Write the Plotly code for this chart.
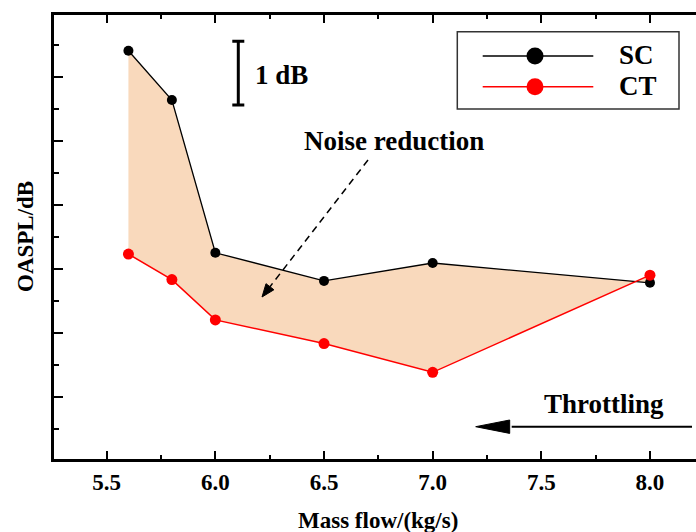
import math
import plotly.graph_objects as go

# Overall sound pressure level against mass flow, two configurations
mass_flow = [5.6, 5.8, 6.0, 6.5, 7.0, 8.0]
oaspl_sc = [106.41, 105.64, 103.25, 102.81, 103.09, 102.78]
oaspl_ct = [103.23, 102.83, 102.20, 101.83, 101.38, 102.90]
series_names = ["SC", "CT"]
x_tick_values = [5.5, 6.0, 6.5, 7.0, 7.5, 8.0]
x_tick_labels = ["5.5", "6.0", "6.5", "7.0", "7.5", "8.0"]
scale_bar_db = 1.0

FONT = "Liberation Serif"
W, H = 696, 532
ML, MR, MT, MB = 54, 0, 15, 73


def paper(px, py):
    """Screen pixel position -> paper coordinates."""
    return (px - ML) / (W - ML - MR), (H - MB - py) / (H - MB - MT)


fig = go.Figure()

# shaded band between the two curves
fig.add_trace(go.Scatter(
    x=mass_flow + mass_flow[::-1],
    y=oaspl_sc + oaspl_ct[::-1],
    fill="toself", fillcolor="#F9D9BC",
    mode="lines", line=dict(width=0),
    hoverinfo="skip", showlegend=False,
))
fig.add_trace(go.Scatter(
    x=mass_flow, y=oaspl_sc, name=series_names[0], mode="lines+markers",
    line=dict(color="black", width=1.3),
    marker=dict(color="black", size=10), showlegend=False,
))
fig.add_trace(go.Scatter(
    x=mass_flow, y=oaspl_ct, name=series_names[1], mode="lines+markers",
    line=dict(color="#FF0000", width=1.5),
    marker=dict(color="#FF0000", size=11), showlegend=False,
))

# 1 dB scale bar
fig.add_trace(go.Scatter(
    x=[6.1056], y=[106.56 - scale_bar_db / 2], mode="markers",
    marker=dict(size=1, color="rgba(0,0,0,0)"),
    error_y=dict(type="data", array=[scale_bar_db / 2], color="black",
                 thickness=3, width=6),
    hoverinfo="skip", showlegend=False,
))

# legend glyphs (drawn on a pixel-scaled overlay axis)
legend_rows = [(56.0, "black", 1.3), (86.7, "#FF0000", 1.5)]
for (ly, col, lw), name in zip(legend_rows, series_names):
    fig.add_shape(type="line", x0=482.7, x1=593.3, y0=ly, y1=ly,
                  line=dict(color=col, width=lw), xref="x2", yref="y2")
    fig.add_trace(go.Scatter(
        x=[535], y=[ly], mode="markers", xaxis="x2", yaxis="y2",
        marker=dict(color=col, size=17), hoverinfo="skip", showlegend=False,
    ))
    fig.add_annotation(x=617, y=ly - 1, xref="x2", yref="y2", text=f"<b>{name}</b>",
                       showarrow=False, xanchor="left", yanchor="middle",
                       font=dict(family=FONT, size=27, color="black"))
fig.add_shape(type="rect", x0=457.3, x1=679, y0=31.7, y1=109,
              line=dict(color="#333333", width=1.5), xref="x2", yref="y2")


def arrow_head(tip, start, length, half_w):
    dx, dy = tip[0] - start[0], tip[1] - start[1]
    d = math.hypot(dx, dy)
    ux, uy = dx / d, dy / d
    bx, by = tip[0] - length * ux, tip[1] - length * uy
    nx, ny = -uy, ux
    return (f"M{tip[0]},{tip[1]} L{bx + half_w * nx},{by + half_w * ny} "
            f"L{bx - half_w * nx},{by - half_w * ny} Z"), (bx, by)


# dashed pointer to the shaded region
p_start, p_tip = (368, 160), (262, 297)
path, base = arrow_head(p_tip, p_start, 13, 5)
fig.add_shape(type="line", x0=p_start[0], y0=p_start[1], x1=base[0], y1=base[1],
              line=dict(color="black", width=1.5, dash="7px,5px"), xref="x2", yref="y2")
fig.add_shape(type="path", path=path, fillcolor="black",
              line=dict(color="black", width=1), xref="x2", yref="y2")

# throttling direction arrow
t_start, t_tip = (692, 426.7), (475.7, 426.7)
path, base = arrow_head(t_tip, t_start, 34, 6.7)
fig.add_shape(type="line", x0=t_start[0], y0=t_start[1], x1=base[0] + 2, y1=base[1],
              line=dict(color="black", width=2), xref="x2", yref="y2")
fig.add_shape(type="path", path=path, fillcolor="black",
              line=dict(color="black", width=1), xref="x2", yref="y2")

text_font = dict(family=FONT, size=27, color="black")
fig.add_annotation(x=253, y=75, xref="x2", yref="y2", text="<b>1 dB</b>",
                   showarrow=False, xanchor="left", yanchor="middle", font=text_font)
fig.add_annotation(x=393.5, y=141, xref="x2", yref="y2", text="<b>Noise reduction</b>",
                   showarrow=False, xanchor="center", yanchor="middle", font=text_font)
fig.add_annotation(x=604.2, y=404, xref="x2", yref="y2", text="<b>Throttling</b>",
                   showarrow=False, xanchor="center", yanchor="middle", font=text_font)

# axis titles
title_font = dict(family=FONT, size=23, color="black")
tx, ty = paper(378, 520)
fig.add_annotation(x=tx, y=ty, xref="paper", yref="paper", text="<b>Mass flow/(kg/s)</b>",
                   showarrow=False, xanchor="center", yanchor="middle", font=title_font)
tx, ty = paper(25, 237)
fig.add_annotation(x=tx, y=ty, xref="paper", yref="paper", text="<b>OASPL/dB</b>",
                   showarrow=False, xanchor="center", yanchor="middle",
                   textangle=-90, font=title_font)

fig.update_layout(
    width=W, height=H,
    margin=dict(l=ML, r=MR, t=MT, b=MB, pad=0),
    paper_bgcolor="white", plot_bgcolor="white",
    font=dict(family=FONT, color="black"),
    xaxis=dict(
        range=[5.2575, 8.2118], tickmode="array",
        tickvals=x_tick_values, ticktext=x_tick_labels,
        ticks="inside", ticklen=8, tickwidth=2, tickcolor="black",
        minor=dict(ticks="inside", ticklen=4, tickwidth=2, tickcolor="black",
                   tick0=5.25, dtick=0.25),
        showline=True, linewidth=3, linecolor="black", mirror="ticks",
        showgrid=False, zeroline=False,
        tickfont=dict(family=FONT, size=23, color="black", weight="bold"),
    ),
    yaxis=dict(
        range=[100.024, 106.969], tick0=100, dtick=1,
        ticks="inside", ticklen=9, tickwidth=2, tickcolor="black",
        minor=dict(ticks="inside", ticklen=5, tickwidth=2, tickcolor="black",
                   tick0=100.5, dtick=0.5),
        showticklabels=False,
        showline=True, linewidth=3, linecolor="black", mirror=False,
        showgrid=False, zeroline=False,
    ),
    xaxis2=dict(range=[ML, W], overlaying="x", anchor="y2", visible=False,
                fixedrange=True),
    yaxis2=dict(range=[H - MB, MT], overlaying="y", anchor="x2", visible=False,
                fixedrange=True),
)

fig.write_html("out.html")
